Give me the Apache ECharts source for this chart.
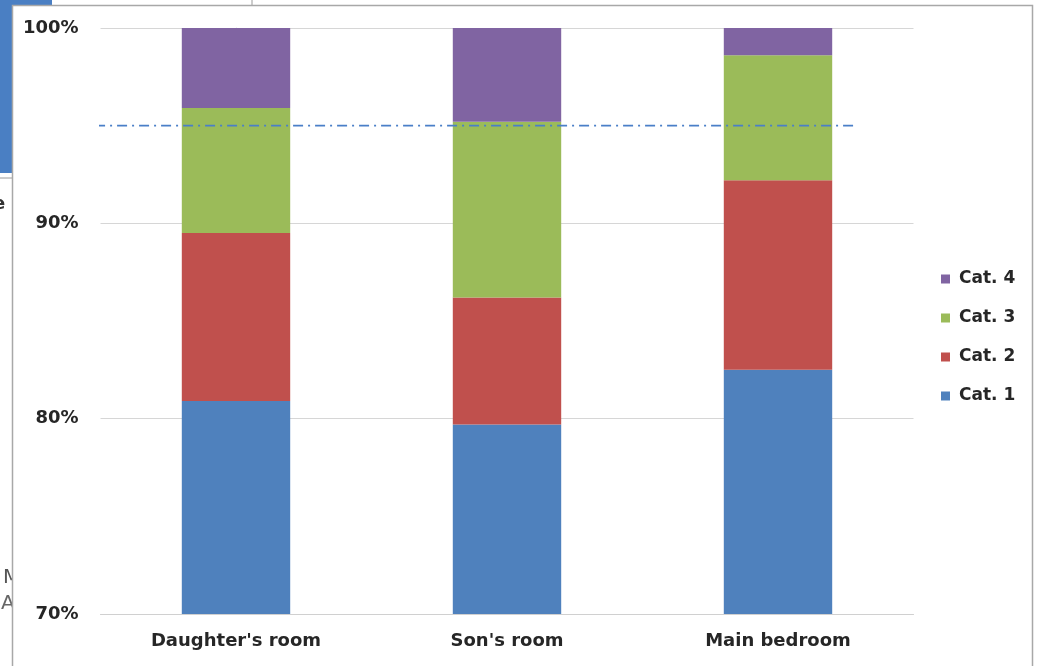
<!DOCTYPE html>
<html>
<head>
<meta charset="utf-8">
<script src="https://cdn.jsdelivr.net/npm/echarts@6/dist/echarts.min.js"></script>
<style>
  html, body { margin: 0; padding: 0; background: #ffffff; }
  #chart { width: 1037px; height: 666px; }
</style>
</head>
<body>
<div id="chart"></div>
<script>
// Rooms and the share of each category (percent of total, stacked to 100%)
const rooms = ["Daughter's room", "Son's room", "Main bedroom"];
const cat1 = [80.9, 79.7, 82.5];
const cat2 = [8.6, 6.5, 9.7];
const cat3 = [6.4, 9.0, 6.4];
const cat4 = [4.1, 4.8, 1.4];
const seriesNames = ['Cat. 1', 'Cat. 2', 'Cat. 3', 'Cat. 4'];
const seriesColors = ['#4f81bd', '#c0504d', '#9bbb59', '#8064a2'];
// 95% threshold line, spanning from the left edge to just past the last bar
const threshold = 95;
const thresholdSpan = [-0.52, 2.28];

const seriesData = [cat1, cat2, cat3, cat4];
const font = '"DejaVu Sans", sans-serif';

const chart = echarts.init(document.getElementById('chart'), null, { renderer: 'canvas' });

const series = seriesData.map((vals, i) => ({
  name: seriesNames[i],
  type: 'bar',
  stack: 'total',
  barCategoryGap: '60%',
  data: vals,
  itemStyle: { color: seriesColors[i] },
  emphasis: { disabled: true },
  z: 3
}));

series.push({
  name: 'threshold',
  type: 'line',
  xAxisIndex: 1,
  data: thresholdSpan.map(x => [x, threshold]),
  symbol: 'none',
  silent: true,
  lineStyle: { color: '#4a7fc8', width: 1.6, type: [10, 5, 2, 5] },
  z: 5
});

chart.setOption({
  animation: false,
  backgroundColor: '#ffffff',
  grid: { left: 100.5, right: 123.5, top: 28, bottom: 52, containLabel: false },
  legend: {
    data: seriesNames.slice().reverse(),
    orient: 'vertical',
    left: 936,
    top: 263,
    itemWidth: 9,
    itemHeight: 9,
    itemGap: 17,
    icon: 'rect',
    textStyle: { fontFamily: font, fontWeight: 'bold', fontSize: 17, lineHeight: 22, color: '#262626', padding: [0, 0, 0, 4] }
  },
  xAxis: [{
    type: 'category',
    data: rooms,
    axisLine: { lineStyle: { color: '#d0d0d0' } },
    axisTick: { show: false },
    axisLabel: { fontFamily: font, fontWeight: 'bold', fontSize: 18, color: '#262626', margin: 18 }
  }, {
    type: 'value',
    min: -0.5,
    max: 2.5,
    show: false
  }],
  yAxis: {
    type: 'value',
    min: 70,
    max: 100,
    interval: 10,
    axisLine: { show: true, lineStyle: { color: '#e0e0e0' } },
    axisTick: { show: true, length: 7, lineStyle: { color: '#d0d0d0' } },
    splitLine: { lineStyle: { color: '#d6d6d6' } },
    axisLabel: {
      fontFamily: font, fontWeight: 'bold', fontSize: 18, color: '#262626', margin: 22,
      formatter: v => v + '%'
    }
  },
  series: series,
  graphic: [
    { type: 'rect', z: -10, shape: { x: 0, y: 0, width: 52, height: 173 }, style: { fill: '#4a7fc3' } },
    { type: 'line', z: -10, shape: { x1: 0, y1: 178, x2: 12, y2: 178 }, style: { stroke: '#9a9a9a', lineWidth: 1 } },
    { type: 'line', z: -10, shape: { x1: 252, y1: 0, x2: 252, y2: 5 }, style: { stroke: '#9a9a9a', lineWidth: 1 } },
    { type: 'text', z: -10, x: -7, y: 195, style: { text: 'e', font: 'bold 18px ' + font, fill: '#333' } },
    { type: 'text', z: -10, x: 3, y: 568, style: { text: 'M', font: '20px ' + font, fill: '#555' } },
    { type: 'text', z: -10, x: 1, y: 594, style: { text: 'A', font: '20px ' + font, fill: '#666' } },
    { type: 'rect', z: -5, shape: { x: 12.5, y: 5.5, width: 1020, height: 670 }, style: { fill: '#ffffff', stroke: '#a8a8a8', lineWidth: 1.5 } }
  ]
});
</script>
</body>
</html>
